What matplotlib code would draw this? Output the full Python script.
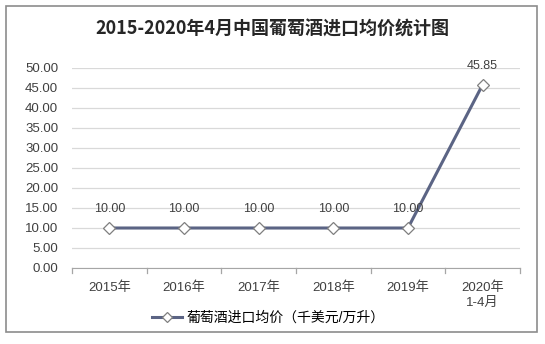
import matplotlib.pyplot as plt
from matplotlib.patches import Rectangle
from matplotlib.lines import Line2D

plt.rcParams['font.family'] = ['Liberation Sans', 'Noto Sans CJK SC', 'DejaVu Sans']

# ── Datos ─────────────────────────────────────────────────────────────────────
categorias = ['2015年', '2016年', '2017年', '2018年', '2019年', '2020年\n1-4月']
precio     = [10.00, 10.00, 10.00, 10.00, 10.00, 45.85]
serie      = '葡萄酒进口均价（千美元/万升）'
titulo     = '2015-2020年4月中国葡萄酒进口均价统计图'
y_ticks    = [0, 5, 10, 15, 20, 25, 30, 35, 40, 45, 50]

color_linea = '#5B6484'
color_grid  = '#D9D9D9'

fig = plt.figure(figsize=(5.45, 3.44), dpi=100)
fig.patches.append(Rectangle((6 / 545, 1 - 332 / 344), 531 / 545, 326 / 344,
                             transform=fig.transFigure, fill=False,
                             edgecolor='#8C8C8C', lw=1.2))

ax = fig.add_axes([72 / 545, 1 - 268 / 344, 448 / 545, 200 / 344])
x = list(range(len(categorias)))
ax.plot(x, precio, color=color_linea, lw=2.2, marker='D', ms=6,
        mfc='white', mec='#7F7F7F', mew=0.9, zorder=3)
for xi, v in zip(x, precio):
    ax.annotate(f'{v:.2f}', (xi, v), xytext=(0, 9), textcoords='offset points',
                ha='center', va='bottom', fontsize=9, color='#404040')

ax.set_xlim(-0.5, len(categorias) - 0.5)
ax.set_ylim(0, 50)
ax.set_yticks(y_ticks)
ax.set_yticklabels([f'{v:.2f}' for v in y_ticks], fontsize=9.5, color='#404040')
ax.set_xticks(x)
ax.set_xticklabels(categorias, fontsize=9.5, color='#404040', linespacing=1.25)
ax.tick_params(axis='x', length=0, pad=10)
ax.tick_params(axis='y', length=0, pad=10)
for b in [i - 0.5 for i in range(len(categorias) + 1)]:
    ax.plot([b, b], [0, -1.2], color='#A6A6A6', lw=0.9, clip_on=False)

ax.grid(axis='y', color=color_grid, lw=0.9)
ax.set_axisbelow(True)
for s in ['top', 'right', 'left']:
    ax.spines[s].set_visible(False)
ax.spines['bottom'].set_color('#A6A6A6')

fig.text(272 / 545, 1 - 29 / 344, titulo, ha='center', va='center',
         fontsize=13, fontweight='bold', color='#262626',
         family=['Noto Sans CJK SC'])

handle = Line2D([], [], color=color_linea, lw=2.2, marker='D', ms=5,
                mfc='white', mec='#7F7F7F', mew=0.9)
fig.legend([handle], [serie], loc='center', bbox_to_anchor=(268 / 545, 1 - 318 / 344),
           frameon=False, fontsize=10, handlelength=2.2, handletextpad=0.3)

fig.savefig('out.png', dpi=100)
